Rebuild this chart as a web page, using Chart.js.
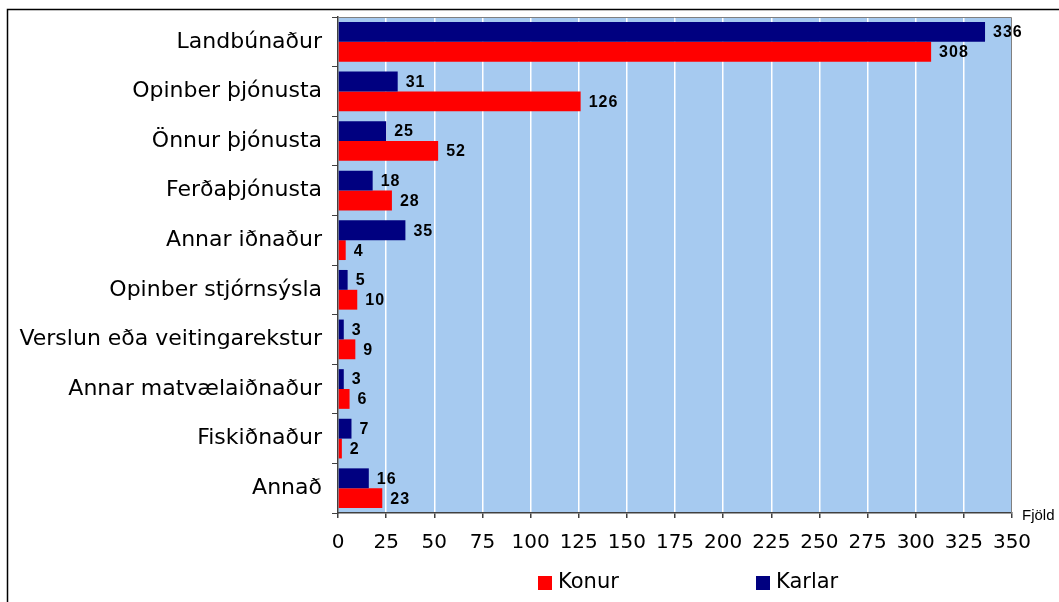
<!DOCTYPE html>
<html>
<head>
<meta charset="utf-8">
<script src="https://cdn.jsdelivr.net/npm/chart.js@4"></script>
<style>
  html, body { margin: 0; padding: 0; background: #fff; }
  #wrap { position: relative; width: 1059px; height: 602px; }
</style>
</head>
<body>
<div id="wrap"><canvas id="chart" width="1059" height="602"></canvas></div>
<script>
const categories = [
  'Landbúnaður',
  'Opinber þjónusta',
  'Önnur þjónusta',
  'Ferðaþjónusta',
  'Annar iðnaður',
  'Opinber stjórnsýsla',
  'Verslun eða veitingarekstur',
  'Annar matvælaiðnaður',
  'Fiskiðnaður',
  'Annað'
];
const karlar = [336, 31, 25, 18, 35, 5, 3, 3, 7, 16];
const konur = [308, 126, 52, 28, 4, 10, 9, 6, 2, 23];
const xMin = 0;
const xMax = 350;
const xStep = 25;
const axisTitle = 'Fjöld';
const legendItems = [
  { label: 'Konur', color: '#ff0000', x: 538 },
  { label: 'Karlar', color: '#000080', x: 756 }
];

const FONT = '"DejaVu Sans", Verdana, sans-serif';
const ARIAL = '"Liberation Sans", Arial, sans-serif';

// nen xanh cua vung ve, khung, ten truc va chu giai
const plotBg = {
  id: 'plotBg',
  beforeDraw(chart) {
    const { ctx, chartArea: a } = chart;
    ctx.save();
    ctx.fillStyle = '#a6caf0';
    ctx.fillRect(a.left, a.top, a.right - a.left, a.bottom - a.top);
    ctx.restore();
  },
  afterDraw(chart) {
    const { ctx, chartArea: a } = chart;
    ctx.save();
    ctx.strokeStyle = '#808080';
    ctx.lineWidth = 1;
    ctx.beginPath();
    ctx.moveTo(a.left, a.top + 0.5);
    ctx.lineTo(a.right - 0.5, a.top + 0.5);
    ctx.lineTo(a.right - 0.5, a.bottom);
    ctx.stroke();

    ctx.strokeStyle = '#000';
    ctx.lineWidth = 1.5;
    ctx.beginPath();
    ctx.moveTo(7.5, 602);
    ctx.lineTo(7.5, 9.5);
    ctx.lineTo(1059, 9.5);
    ctx.stroke();

    ctx.fillStyle = '#000';
    ctx.font = '15px ' + ARIAL;
    ctx.textBaseline = 'alphabetic';
    ctx.textAlign = 'left';
    ctx.fillText(axisTitle, 1022, 520);

    ctx.font = '21px ' + FONT;
    ctx.textBaseline = 'middle';
    legendItems.forEach((item) => {
      ctx.fillStyle = item.color;
      ctx.fillRect(item.x, 576, 14, 14);
      ctx.fillStyle = '#000';
      ctx.fillText(item.label, item.x + 20, 583);
    });
    ctx.restore();
  }
};

// nhan gia tri cuoi thanh
const barLabels = {
  id: 'barLabels',
  afterDatasetsDraw(chart) {
    const { ctx } = chart;
    ctx.save();
    ctx.font = 'bold 16px ' + ARIAL;
    ctx.fillStyle = '#000';
    ctx.textAlign = 'left';
    ctx.textBaseline = 'middle';
    ctx.letterSpacing = '1px';
    chart.data.datasets.forEach((ds, i) => {
      chart.getDatasetMeta(i).data.forEach((el, j) => {
        ctx.fillText(String(ds.data[j]), el.x + 8, el.y + 1);
      });
    });
    ctx.restore();
  }
};

new Chart(document.getElementById('chart'), {
  type: 'bar',
  data: {
    labels: categories,
    datasets: [
      { label: 'Karlar', data: karlar, backgroundColor: '#000080' },
      { label: 'Konur', data: konur, backgroundColor: '#ff0000' }
    ]
  },
  options: {
    indexAxis: 'y',
    responsive: false,
    animation: false,
    devicePixelRatio: 1,
    layout: { autoPadding: false, padding: { top: 17, left: 0, right: 47, bottom: 49 } },
    datasets: { bar: { categoryPercentage: 0.8, barPercentage: 1.0 } },
    plugins: { legend: { display: false }, tooltip: { enabled: false } },
    scales: {
      x: {
        min: xMin,
        max: xMax,
        ticks: { stepSize: xStep, color: '#000', font: { family: FONT, size: 20 }, padding: 13, maxRotation: 0, autoSkip: false },
        grid: { color: '#ffffff', lineWidth: 1.5, tickColor: '#404040', tickLength: 5 },
        border: { color: '#404040', width: 1.5 },
        afterFit(scale) {
          scale.height = 40;
          scale.paddingLeft = 0;
          scale.paddingRight = 0;
        }
      },
      y: {
        ticks: { color: '#000', font: { family: FONT, size: 22 }, padding: 10 },
        grid: { drawOnChartArea: false, tickColor: '#404040', tickLength: 6 },
        border: { color: '#404040', width: 1.5 },
        afterFit(scale) {
          scale.width = 338;
          scale.paddingTop = 0;
          scale.paddingBottom = 0;
        }
      }
    }
  },
  plugins: [plotBg, barLabels]
});
</script>
</body>
</html>
